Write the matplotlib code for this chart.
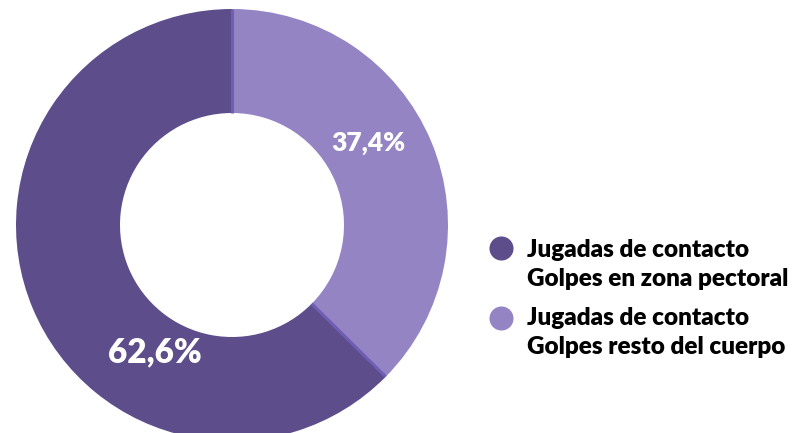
import matplotlib
matplotlib.use("Agg")
import matplotlib.pyplot as plt
import numpy as np

# Data
categories = ["Jugadas de contacto\nGolpes en zona pectoral",
              "Jugadas de contacto\nGolpes resto del cuerpo"]
shares = [62.6, 37.4]
pct_labels = ["62,6%", "37,4%"]
colors = ["#5d4d8b", "#9584c3"]
sep_color = "#6e5eb4"

W, H = 797, 433
fig = plt.figure(figsize=(W / 100, H / 100), dpi=100)
ax = fig.add_axes([0, 0, 1, 1])

cx, cy = 232, H - 225
r_out, r_in = 216, 112

ax.pie(shares, colors=colors, startangle=90, counterclock=True,
       radius=r_out, center=(cx, cy),
       wedgeprops=dict(width=r_out - r_in, linewidth=0),
       frame=True)
ax.set_xlim(0, W)
ax.set_ylim(0, H)
ax.set_aspect("equal")
ax.axis("off")

# thin separators at slice boundaries
bounds = 90 + np.cumsum([0] + shares[:-1]) * 3.6
for a in bounds:
    t = np.deg2rad(a)
    ax.plot([cx + r_in * np.cos(t), cx + r_out * np.cos(t)],
            [cy + r_in * np.sin(t), cy + r_out * np.sin(t)],
            color=sep_color, lw=2.2, solid_capstyle="butt")

font = "Lato"
ax.text(155, H - 352, pct_labels[0], color="white", fontsize=24,
        fontweight="heavy", family=font, ha="center", va="center")
ax.text(368, H - 143, pct_labels[1], color="white", fontsize=19,
        fontweight="heavy", family=font, ha="center", va="center")

# legend
marker_y = [248, 318]
baselines = [257, 325]
for cat, col, my, bl in zip(categories, colors, marker_y, baselines):
    ax.scatter([501], [H - my], s=300, color=col, linewidths=0)
    for i, line in enumerate(cat.split("\n")):
        ax.text(527, H - (bl + i * 29), line, color="black", fontsize=17.5,
                fontweight="heavy", family=font, ha="left", va="baseline")

fig.savefig("out.png", dpi=100)
